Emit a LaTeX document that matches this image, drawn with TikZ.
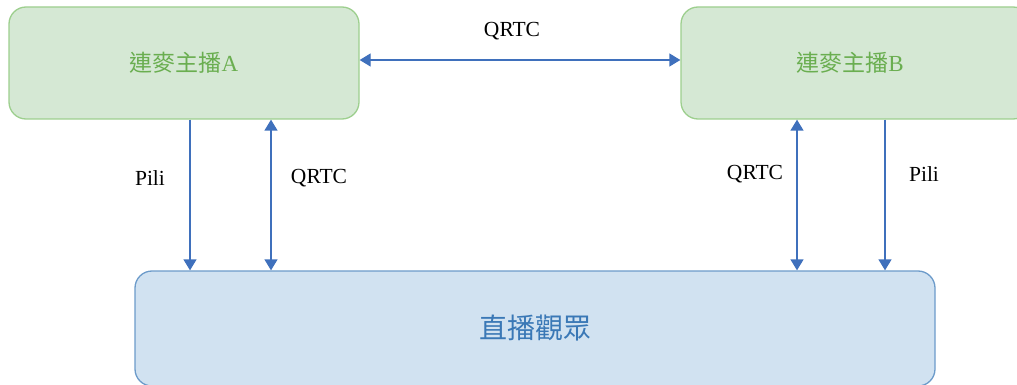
\documentclass[tikz,border=0pt]{standalone}
\usepackage{fontspec}
\setmainfont{Liberation Serif}
\newfontfamily\cjk{Noto Sans CJK TC}
\usetikzlibrary{arrows.meta}
\definecolor{gfill}{HTML}{D5E8D4}
\definecolor{gdraw}{HTML}{9DCF8E}
\definecolor{gtext}{HTML}{6AAE50}
\definecolor{bfill}{HTML}{D1E2F1}
\definecolor{bdraw}{HTML}{6C9BCA}
\definecolor{btext}{HTML}{3A78B6}
\definecolor{arrc}{HTML}{3F70BC}
\tikzset{
  gbox/.style={draw=gdraw, fill=gfill, line width=1.3pt, rounded corners=17pt, inner sep=0pt, text=gtext, font=\fontsize{23pt}{26pt}\selectfont},
  bbox/.style={draw=bdraw, fill=bfill, line width=1.3pt, rounded corners=17pt, inner sep=0pt, text=btext, font=\fontsize{28pt}{32pt}\selectfont},
  arr/.style={draw=arrc, line width=1.3pt, -{Triangle[length=11pt,width=13pt]}},
  darr/.style={draw=arrc, line width=1.3pt, {Triangle[length=11pt,width=13pt]}-{Triangle[length=11pt,width=13pt]}},
  lbl/.style={font=\fontsize{21.5pt}{24pt}\selectfont, text=black, inner sep=0pt}
}
\begin{document}
\begin{tikzpicture}[x=1pt,y=-1pt]
\useasboundingbox (0,0) rectangle (1017,385);
\clip (0,0) rectangle (1017,385);
\node[gbox, minimum width=350pt, minimum height=112pt] (A) at (184,63) {\raisebox{2pt}{{\cjk 連麥主播}A}};
\node[gbox, minimum width=349pt, minimum height=112pt] (B) at (855.5,63) {\hspace{-11pt}\raisebox{2pt}{{\cjk 連麥主播}B}};
\node[bbox, minimum width=800pt, minimum height=115pt] (V) at (535,328.5) {\raisebox{3pt}{\cjk 直播觀眾}};
% horizontal QRTC
\draw[darr] (A.east |- 0,60) -- (B.west |- 0,60);
\node[lbl] (t1) at (512,31) {QRTC};
% A side
\draw[arr] (A.south -| 190,0) -- (V.north -| 190,0);
\draw[darr] (A.south -| 271,0) -- (V.north -| 271,0);
\node[lbl] (t2) at (150,178) {Pili};
\node[lbl] (t3) at (319,178) {QRTC};
% B side
\draw[darr] (B.south -| 797,0) -- (V.north -| 797,0);
\draw[arr] (B.south -| 885,0) -- (V.north -| 885,0);
\node[lbl] (t4) at (755,174) {QRTC};
\node[lbl] (t5) at (924,174) {Pili};
\end{tikzpicture}
\end{document}
